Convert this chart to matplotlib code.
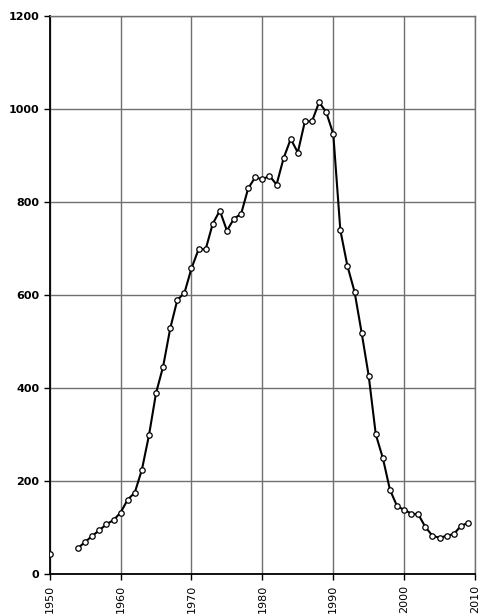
import numpy as np
import matplotlib.pyplot as plt

years = list(range(1950, 2010))
# 1951-1953 missing in the source
values = [42, None, None, None, 56, 69, 82, 94, 107, 116,
          132, 160, 175, 224, 298, 389, 446, 528, 589, 604,
          657, 698, 698, 753, 781, 738, 764, 774, 829, 853,
          848, 856, 837, 894, 935, 906, 973, 973, 1014, 993,
          946, 739, 662, 607, 519, 426, 300, 249, 181, 146,
          138, 130, 128, 101, 82, 78, 82, 86, 103, 110]

x_ticks = [1950, 1960, 1970, 1980, 1990, 2000, 2010]
y_ticks = [0, 200, 400, 600, 800, 1000, 1200]

y = np.array([np.nan if v is None else v for v in values], dtype=float)

fig = plt.figure(figsize=(4.79, 6.14), dpi=100)
ax = fig.add_axes([0.1038, 0.0651, 0.8879, 0.9093])

ax.plot(years, y, color='black', lw=1.5, marker='o', ms=3.9,
        mfc='white', mec='black', mew=0.9, zorder=3)

ax.set_xlim(1950, 2010)
ax.set_ylim(0, 1200)
ax.set_xticks(x_ticks)
ax.set_yticks(y_ticks)
ax.set_xticklabels([str(t) for t in x_ticks], rotation=90)
ax.grid(True, color='#707070', lw=1)
ax.set_axisbelow(True)

for s in ['top', 'right']:
    ax.spines[s].set_color('#707070')
    ax.spines[s].set_linewidth(1)
for s in ['left', 'bottom']:
    ax.spines[s].set_color('black')
    ax.spines[s].set_linewidth(1.3)

ax.tick_params(axis='both', direction='out', length=4, width=1, labelsize=8)
for lab in ax.get_yticklabels():
    lab.set_fontweight('bold')

fig.savefig('out.png', dpi=100)
